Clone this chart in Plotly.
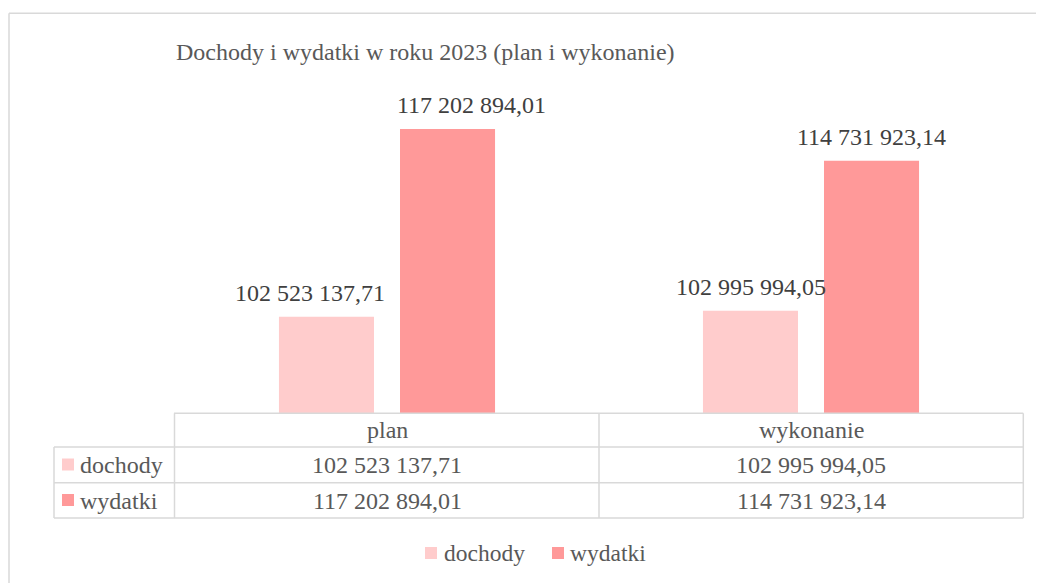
import plotly.graph_objects as go

# ---- data ----
categories = ["plan", "wykonanie"]
series_names = ["dochody", "wydatki"]
dochody = [102523137.71, 102995994.05]
wydatki = [117202894.01, 114731923.14]
title_text = "Dochody i wydatki w roku 2023 (plan i wykonanie)"

colors = ["#FFCCCC", "#FF9999"]
FONT = "Liberation Serif"
FS = 24
GRID = "#D9D9D9"

W, H = 1037, 583
ML, MR, MT, MB = 175, 14, 92, 170
PW, PH = W - ML - MR, H - MT - MB


def X(px):
    return (px - ML) / PW


def Y(py):
    return (H - MB - py) / PH


def fmt(v):
    s = f"{v:,.2f}"
    return s.replace(",", " ").replace(".", ",")


values = [dochody, wydatki]

fig = go.Figure()
for name, vals, col in zip(series_names, values, colors):
    fig.add_trace(go.Bar(
        x=categories, y=vals, name=name,
        marker=dict(color=col, line=dict(width=0)),
        hoverinfo="skip",
    ))

shapes = []
annotations = []

# outer frame
shapes.append(dict(type="line", xref="paper", yref="paper",
                   x0=X(9), x1=X(9), y0=Y(13.3), y1=Y(600),
                   line=dict(color=GRID, width=1.5)))
shapes.append(dict(type="line", xref="paper", yref="paper",
                   x0=X(9), x1=X(1036), y0=Y(13.3), y1=Y(13.3),
                   line=dict(color=GRID, width=1.5)))


def hline(py, x0, x1):
    shapes.append(dict(type="line", xref="paper", yref="paper",
                       x0=X(x0), x1=X(x1), y0=Y(py), y1=Y(py),
                       line=dict(color=GRID, width=1.5)))


def vline(px, y0, y1):
    shapes.append(dict(type="line", xref="paper", yref="paper",
                       x0=X(px), x1=X(px), y0=Y(y0), y1=Y(y1),
                       line=dict(color=GRID, width=1.5)))


# data table grid
hline(413.3, 174, 1023.3)
hline(447, 54, 1023.3)
hline(482.7, 54, 1023.3)
hline(518, 54, 1023.3)
vline(54, 447, 518)
vline(174.5, 413.3, 518)
vline(599, 413.3, 518)
vline(1023.3, 413.3, 518)

# title
annotations.append(dict(text=title_text, xref="paper", yref="paper",
                        x=X(174), y=Y(52), xanchor="left", yanchor="middle",
                        showarrow=False, font=dict(family=FONT, size=FS, color="#595959")))

# data labels above bars
label_xshift = [[-16.5, 24], [0, 0]]  # per category, per series (manual nudges)
bar_offset = [-60.5, 60.5]
for ci, cat in enumerate(categories):
    for si, vals in enumerate(values):
        annotations.append(dict(text=fmt(vals[ci]), x=cat, y=vals[ci], xref="x", yref="y",
                                xanchor="center", yanchor="middle",
                                xshift=bar_offset[si] + label_xshift[ci][si], yshift=24,
                                showarrow=False, font=dict(family=FONT, size=FS, color="#404040")))

# table header and cells
row_y = [465, 500.5]
for ci, cat in enumerate(categories):
    annotations.append(dict(text=cat, x=cat, xref="x", yref="paper", y=Y(430),
                            xanchor="center", yanchor="middle", showarrow=False,
                            font=dict(family=FONT, size=FS, color="#595959")))
    for si, vals in enumerate(values):
        annotations.append(dict(text=fmt(vals[ci]), x=cat, xref="x", yref="paper", y=Y(row_y[si]),
                                xanchor="center", yanchor="middle", showarrow=False,
                                font=dict(family=FONT, size=FS, color="#595959")))

for si, name in enumerate(series_names):
    cy = row_y[si] - 0.5
    shapes.append(dict(type="rect", xref="paper", yref="paper",
                       x0=X(62), x1=X(74), y0=Y(cy - 6), y1=Y(cy + 6),
                       fillcolor=colors[si], line=dict(width=0)))
    annotations.append(dict(text=name, xref="paper", yref="paper", x=X(78), y=Y(row_y[si]),
                            xanchor="left", yanchor="middle", showarrow=False,
                            font=dict(family=FONT, size=FS, color="#595959")))

# legend (bottom)
leg_sq_x = [425, 552]
leg_tx_x = [442, 568]
for si, name in enumerate(series_names):
    shapes.append(dict(type="rect", xref="paper", yref="paper",
                       x0=X(leg_sq_x[si]), x1=X(leg_sq_x[si] + 12), y0=Y(559), y1=Y(547),
                       fillcolor=colors[si], line=dict(width=0)))
    annotations.append(dict(text=name, xref="paper", yref="paper", x=X(leg_tx_x[si]), y=Y(553),
                            xanchor="left", yanchor="middle", showarrow=False,
                            font=dict(family=FONT, size=FS - 0.5, color="#595959")))

fig.update_layout(
    width=W, height=H,
    margin=dict(l=ML, r=MR, t=MT, b=MB, pad=0),
    paper_bgcolor="white", plot_bgcolor="white",
    barmode="group", bargap=0.429, bargroupgap=0.215,
    showlegend=False,
    xaxis=dict(showticklabels=False, showline=False, showgrid=False, zeroline=False,
               ticks="", fixedrange=True),
    yaxis=dict(range=[95e6, 120.1e6], visible=False, showgrid=False, zeroline=False,
               fixedrange=True),
    shapes=shapes, annotations=annotations,
    font=dict(family=FONT, color="#595959"),
)

fig.write_html("out.html", config={"displayModeBar": False},
               post_script="document.body.style.margin='0';document.body.style.overflow='hidden';")
